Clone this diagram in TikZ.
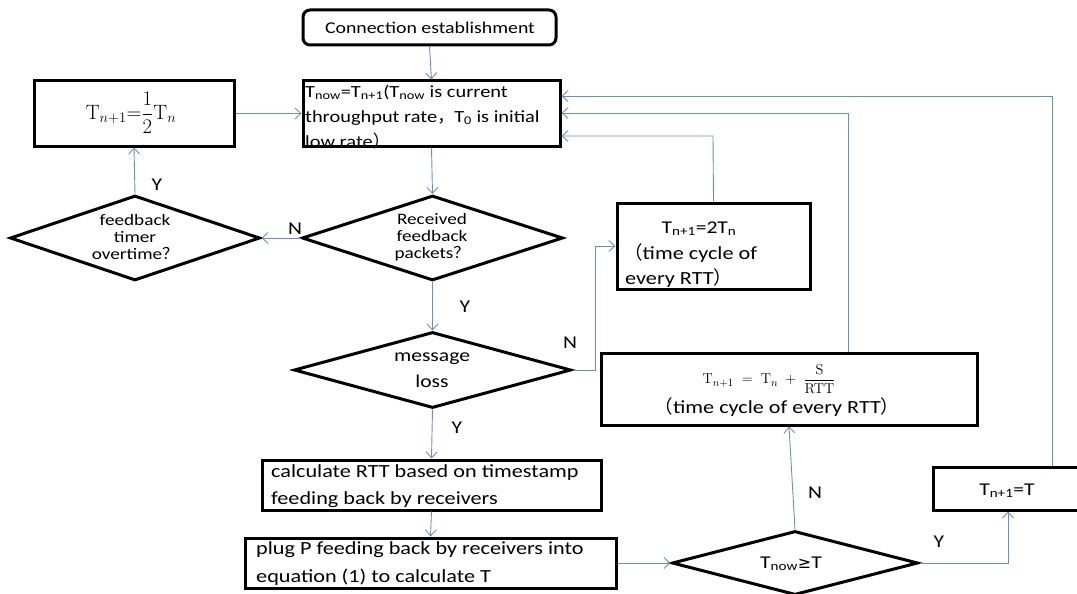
\documentclass[tikz,border=0pt]{standalone}
\usepackage[no-math]{fontspec}
\setmainfont{Carlito}[FakeStretch=1.2]
\newfontfamily\cjk{Noto Sans CJK SC}
\newfontfamily\dejavu{DejaVu Sans}
\usetikzlibrary{shapes.geometric,arrows.meta}
\definecolor{lnc}{RGB}{105,145,192}
\newcommand\fs[1]{\fontsize{#1}{#1}\selectfont}
\newcommand\subt[1]{\textsubscript{#1}}
\begin{document}
\begin{tikzpicture}[x=1pt,y=-1pt,
  boxnode/.style={draw=black, line width=3pt, rectangle, inner sep=0pt},
  dia/.style={draw=black, line width=3pt, diamond, inner sep=0pt},
  txt/.style={inner sep=0pt, text=black},
  lab/.style={inner sep=0pt, font=\fs{18}},
  conn/.style={draw=lnc, line width=0.9pt, -{Straight Barb[length=6pt,width=11pt]}}]
\useasboundingbox (0,0) rectangle (1077,594);
\fill[white] (0,0) rectangle (1077,594);

% shapes
\node[boxnode, rounded corners=7pt, minimum width=253pt, minimum height=35pt] (conn) at (429.5,27.5) {};
\node[boxnode, minimum width=257pt, minimum height=65pt] (tnow) at (431.5,113.5) {};
\node[boxnode, minimum width=200pt, minimum height=65pt] (half) at (134,113.5) {};
\node[dia, minimum width=250pt, minimum height=85pt] (fbt) at (135,238) {};
\node[dia, minimum width=261pt, minimum height=85pt] (recv) at (432.5,238) {};
\node[dia, minimum width=277pt, minimum height=76pt] (msg) at (432.5,370) {};
\node[boxnode, minimum width=193pt, minimum height=86pt] (two) at (713.5,246) {};
\node[boxnode, minimum width=376pt, minimum height=72pt] (srtt) at (789,389) {};
\node[boxnode, minimum width=339pt, minimum height=50pt] (calc) at (431.5,485) {};
\node[boxnode, minimum width=371pt, minimum height=50pt] (plug) at (430.5,563) {};
\node[dia, minimum width=246pt, minimum height=64pt] (tge) at (795,563) {};
\node[boxnode, minimum width=148pt, minimum height=43pt] (tt) at (1007,488.5) {};

% texts
\node[txt, anchor=base, font=\fs{16.5}] (connT) at (430,34) {Connection establishment};
\node[txt, anchor=base west, font=\fs{17}] (tnowA) at (305,97) {T\subt{now}=T\subt{n+1}(T\subt{now} is current};
\node[txt, anchor=base west, font=\fs{17}] (tnowB) at (305,122) {throughput rate{\cjk ，}T\subt{0} is initial};
\node[txt, anchor=base west, font=\fs{17}] (tnowC) at (305,147) {low rate{\cjk ）}};
\node[txt, font=\fs{20}] (halfT) at (131,113) {$\displaystyle \mathrm{T}_{n+1}{=}\frac{1}{2}\mathrm{T}_{n}$};
\node[txt, align=center, font=\fontsize{16}{17}\selectfont] (fbtT) at (135,237) {feedback\\timer\\overtime{\cjk ？}};
\node[txt, align=center, font=\fontsize{16}{17}\selectfont] (recvT) at (432,237) {Received\\feedback\\packets{\cjk ？}};
\node[txt, align=center, font=\fontsize{18}{26}\selectfont] (msgT) at (432,370) {message\\loss};
\node[txt, anchor=base, font=\fs{18}] (twoA) at (699,233) {T\subt{n+1}=2T\subt{n}};
\node[txt, anchor=base west, font=\fs{18.5}] (twoB) at (624,259) {{\cjk （}time cycle of};
\node[txt, anchor=base west, font=\fs{18.5}] (twoC) at (625,284) {every RTT{\cjk ）}};
\node[txt, font=\fs{15}] (srttF) at (769,379) {$\displaystyle \mathrm{T}_{n+1}\;=\;\mathrm{T}_{n}\;+\;\frac{\mathrm{S}}{\mathrm{RTT}}$};
\node[txt, anchor=base, font=\fs{18.5}] (srttT) at (777,413) {{\cjk （}time cycle of every RTT{\cjk ）}};
\node[txt, anchor=base west, font=\fs{18.5}] (calcA) at (271,477) {calculate RTT based on timestamp};
\node[txt, anchor=base west, font=\fs{18.5}] (calcB) at (271,504) {feeding back by receivers};
\node[txt, anchor=base west, font=\fs{18.5}] (plugA) at (256,554) {plug P feeding back by receivers into};
\node[txt, anchor=base west, font=\fs{18.5}] (plugB) at (256,582) {equation (1) to calculate T};
\node[txt, anchor=base, font=\fs{18}] (tgeT) at (791,568) {T\subt{now}{\dejavu\fs{16}≥}T};
\node[txt, anchor=base, font=\fs{18}] (ttT) at (1007,495) {T\subt{n+1}=T};

% labels
\node[lab] (y1) at (157,185) {Y};
\node[lab] (n1) at (295,229) {N};
\node[lab] (y2) at (465,307) {Y};
\node[lab] (n2) at (570,343) {N};
\node[lab] (y3) at (457,428) {Y};
\node[lab] (n3) at (815,493) {N};
\node[lab] (y4) at (939,542) {Y};

% connector coordinates
\coordinate (c10) at (595,370);
\coordinate (c11) at (713,136);
\coordinate (c13) at (848,113);
\coordinate (c14) at (1008,563);
\coordinate (c15) at (1052,96);

% connectors
\draw[conn] (conn.south) -- (tnow.north);
\draw[conn] (half.east) -- (tnow.west);
\draw[conn] (tnow.south) -- (recv.north);
\draw[conn] (recv.west) -- (fbt.east);
\draw[conn] (fbt.north) -- (half.south);
\draw[conn] (recv.south) -- (msg.north);
\draw[conn] (msg.south) -- (calc.north);
\draw[conn] (calc.south) -- (plug.north);
\draw[conn] (plug.east) -- (tge.west);
\draw[conn] (msg.east) -- (c10) |- (two.west);
\draw[conn] (two.north) -- (c11) -- (tnow.east |- c11);
\draw[conn] (tge.north) -- (srtt.south);
\draw[conn] (srtt.north -| c13) -- (c13) -- (tnow.east |- c13);
\draw[conn] (tge.east) -- (c14) -- (tt.south -| c14);
\draw[conn] (tt.north -| c15) -- (c15) -- (tnow.east |- c15);
\end{tikzpicture}
\end{document}
